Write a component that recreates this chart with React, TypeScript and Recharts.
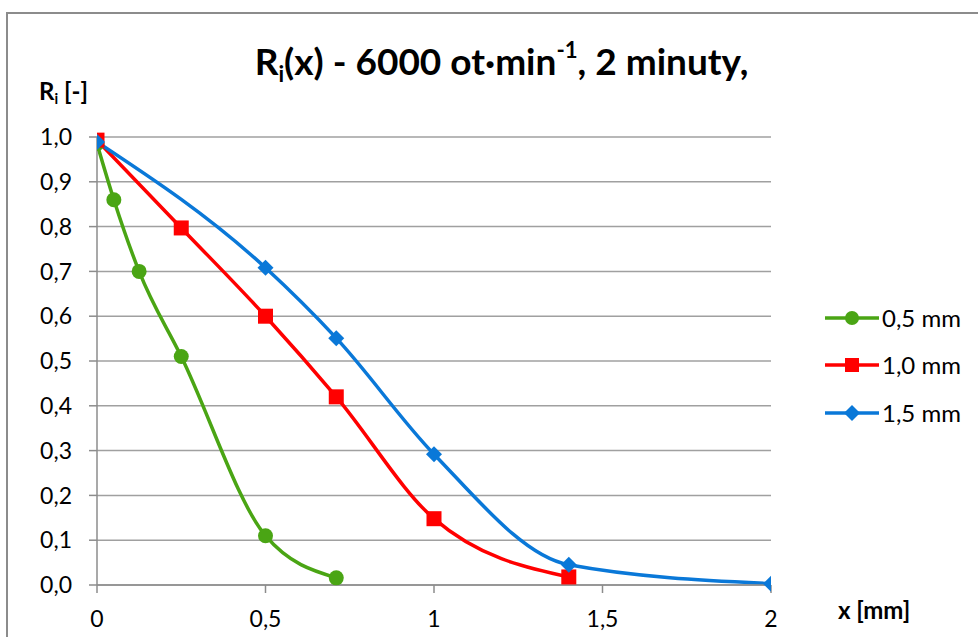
import React from 'react';
import { LineChart, Line, XAxis, YAxis, CartesianGrid } from 'recharts';

// x positions [mm] and R_i values
const xGreen = [0, 0.05, 0.125, 0.25, 0.5, 0.71];
const rGreen = [0.985, 0.86, 0.70, 0.51, 0.11, 0.016];

const xRed = [0, 0.25, 0.5, 0.71, 1.0, 1.4];
const rRed = [0.993, 0.797, 0.60, 0.42, 0.148, 0.018];

const xBlue = [0, 0.5, 0.71, 1.0, 1.4, 2.0];
const rBlue = [0.989, 0.708, 0.551, 0.292, 0.045, 0.003];

const xTicks = [0, 0.5, 1, 1.5, 2];
const yTicks = [0, 0.1, 0.2, 0.3, 0.4, 0.5, 0.6, 0.7, 0.8, 0.9, 1.0];

const seriesNames = ['0,5 mm', '1,0 mm', '1,5 mm'];
const seriesColors = ['#4aa514', '#ff0000', '#0a78d8'];

const toRows = (xs: number[], ys: number[]) => xs.map((x, i) => ({ x, r: ys[i] }));

const FONT = 'Lato, "Open Sans", sans-serif';
const comma = (v: number, d: number) => v.toFixed(d).replace('.', ',');

const subStyle: React.CSSProperties = { fontSize: '0.6em', position: 'relative', top: '0.3em' };
const supStyle: React.CSSProperties = { fontSize: '0.6em', position: 'relative', top: '-0.75em' };

const Circle = (props: any) => {
  const { cx, cy, index } = props;
  return <circle key={`c-${index}`} cx={cx} cy={cy} r={7.5} fill={seriesColors[0]} />;
};
const Square = (props: any) => {
  const { cx, cy, index } = props;
  return <rect key={`s-${index}`} x={cx - 7.5} y={cy - 7.5} width={15} height={15} fill={seriesColors[1]} />;
};
const Diamond = (props: any) => {
  const { cx, cy, index } = props;
  const s = 8;
  return (
    <path
      key={`d-${index}`}
      d={`M${cx},${cy - s}L${cx + s},${cy}L${cx},${cy + s}L${cx - s},${cy}Z`}
      fill={seriesColors[2]}
    />
  );
};

const LegendMarker = ({ i }: { i: number }) => {
  const c = seriesColors[i];
  return (
    <svg width={54} height={18} style={{ display: 'block' }}>
      <line x1={0} y1={9} x2={54} y2={9} stroke={c} strokeWidth={3.5} />
      {i === 0 && <circle cx={27} cy={9} r={7} fill={c} />}
      {i === 1 && <rect x={20} y={2} width={14} height={14} fill={c} />}
      {i === 2 && <path d="M27,1L35,9L27,17L19,9Z" fill={c} />}
    </svg>
  );
};

export default function App() {
  const datasets = [toRows(xGreen, rGreen), toRows(xRed, rRed), toRows(xBlue, rBlue)];
  const dots = [Circle, Square, Diamond];
  const legendY = [318, 365, 413];

  return (
    <div
      style={{
        position: 'absolute',
        left: 0,
        top: 0,
        width: 978,
        height: 637,
        overflow: 'hidden',
        background: '#fff',
        fontFamily: FONT,
        color: '#000',
      }}
    >
      <div
        style={{
          position: 'absolute',
          left: 6,
          top: 12,
          width: 1100,
          height: 800,
          border: '2px solid #8c8c8c',
        }}
      />
      <div
        style={{
          position: 'absolute',
          left: 0,
          width: 1003,
          top: 39,
          lineHeight: '44px',
          textAlign: 'center',
          fontSize: 37,
          fontWeight: 700,
          whiteSpace: 'nowrap',
        }}
      >
        R<span style={subStyle}>i</span>(x) - 6000 ot·min<span style={supStyle}>-1</span>, 2 minuty,
      </div>
      <div
        style={{ position: 'absolute', left: 39, top: 77, lineHeight: 1.2, fontSize: 24, fontWeight: 700 }}
      >
        R<span style={subStyle}>i</span> [-]
      </div>
      <div
        style={{ position: 'absolute', left: 838, top: 596, lineHeight: 1.2, fontSize: 24, fontWeight: 700 }}
      >
        x [mm]
      </div>

      <div style={{ position: 'absolute', left: 0, top: 0 }}>
        <LineChart width={978} height={637} margin={{ top: 137, right: 207, bottom: 22, left: 37 }}>
          <CartesianGrid vertical={false} stroke="#a0a0a0" strokeWidth={1.5} />
          <XAxis
            type="number"
            dataKey="x"
            domain={[0, 2]}
            ticks={xTicks}
            allowDataOverflow
            height={30}
            stroke="#8c8c8c"
            strokeWidth={1.5}
            tickSize={8}
            tickMargin={18}
            tick={{ fill: '#000', fontSize: 23, fontFamily: FONT }}
            tickFormatter={(v: number) => (Number.isInteger(v) ? String(v) : comma(v, 1))}
          />
          <YAxis
            type="number"
            dataKey="r"
            domain={[0, 1]}
            ticks={yTicks}
            width={60}
            stroke="#8c8c8c"
            strokeWidth={1.5}
            tickSize={8}
            tickMargin={17}
            tick={{ fill: '#000', fontSize: 23, fontFamily: FONT }}
            tickFormatter={(v: number) => comma(v, 1)}
          />
          {datasets.map((d, i) => (
            <Line
              key={seriesNames[i]}
              name={seriesNames[i]}
              data={d}
              dataKey="r"
              type="monotone"
              stroke={seriesColors[i]}
              strokeWidth={3.5}
              dot={dots[i]}
              activeDot={false}
              isAnimationActive={false}
            />
          ))}
        </LineChart>
      </div>

      {seriesNames.map((n, i) => (
        <div
          key={n}
          style={{
            position: 'absolute',
            left: 825,
            top: legendY[i] - 15,
            height: 30,
            display: 'flex',
            alignItems: 'center',
          }}
        >
          <LegendMarker i={i} />
          <span style={{ fontSize: 24, marginLeft: 3, lineHeight: '30px' }}>{n}</span>
        </div>
      ))}
    </div>
  );
}
